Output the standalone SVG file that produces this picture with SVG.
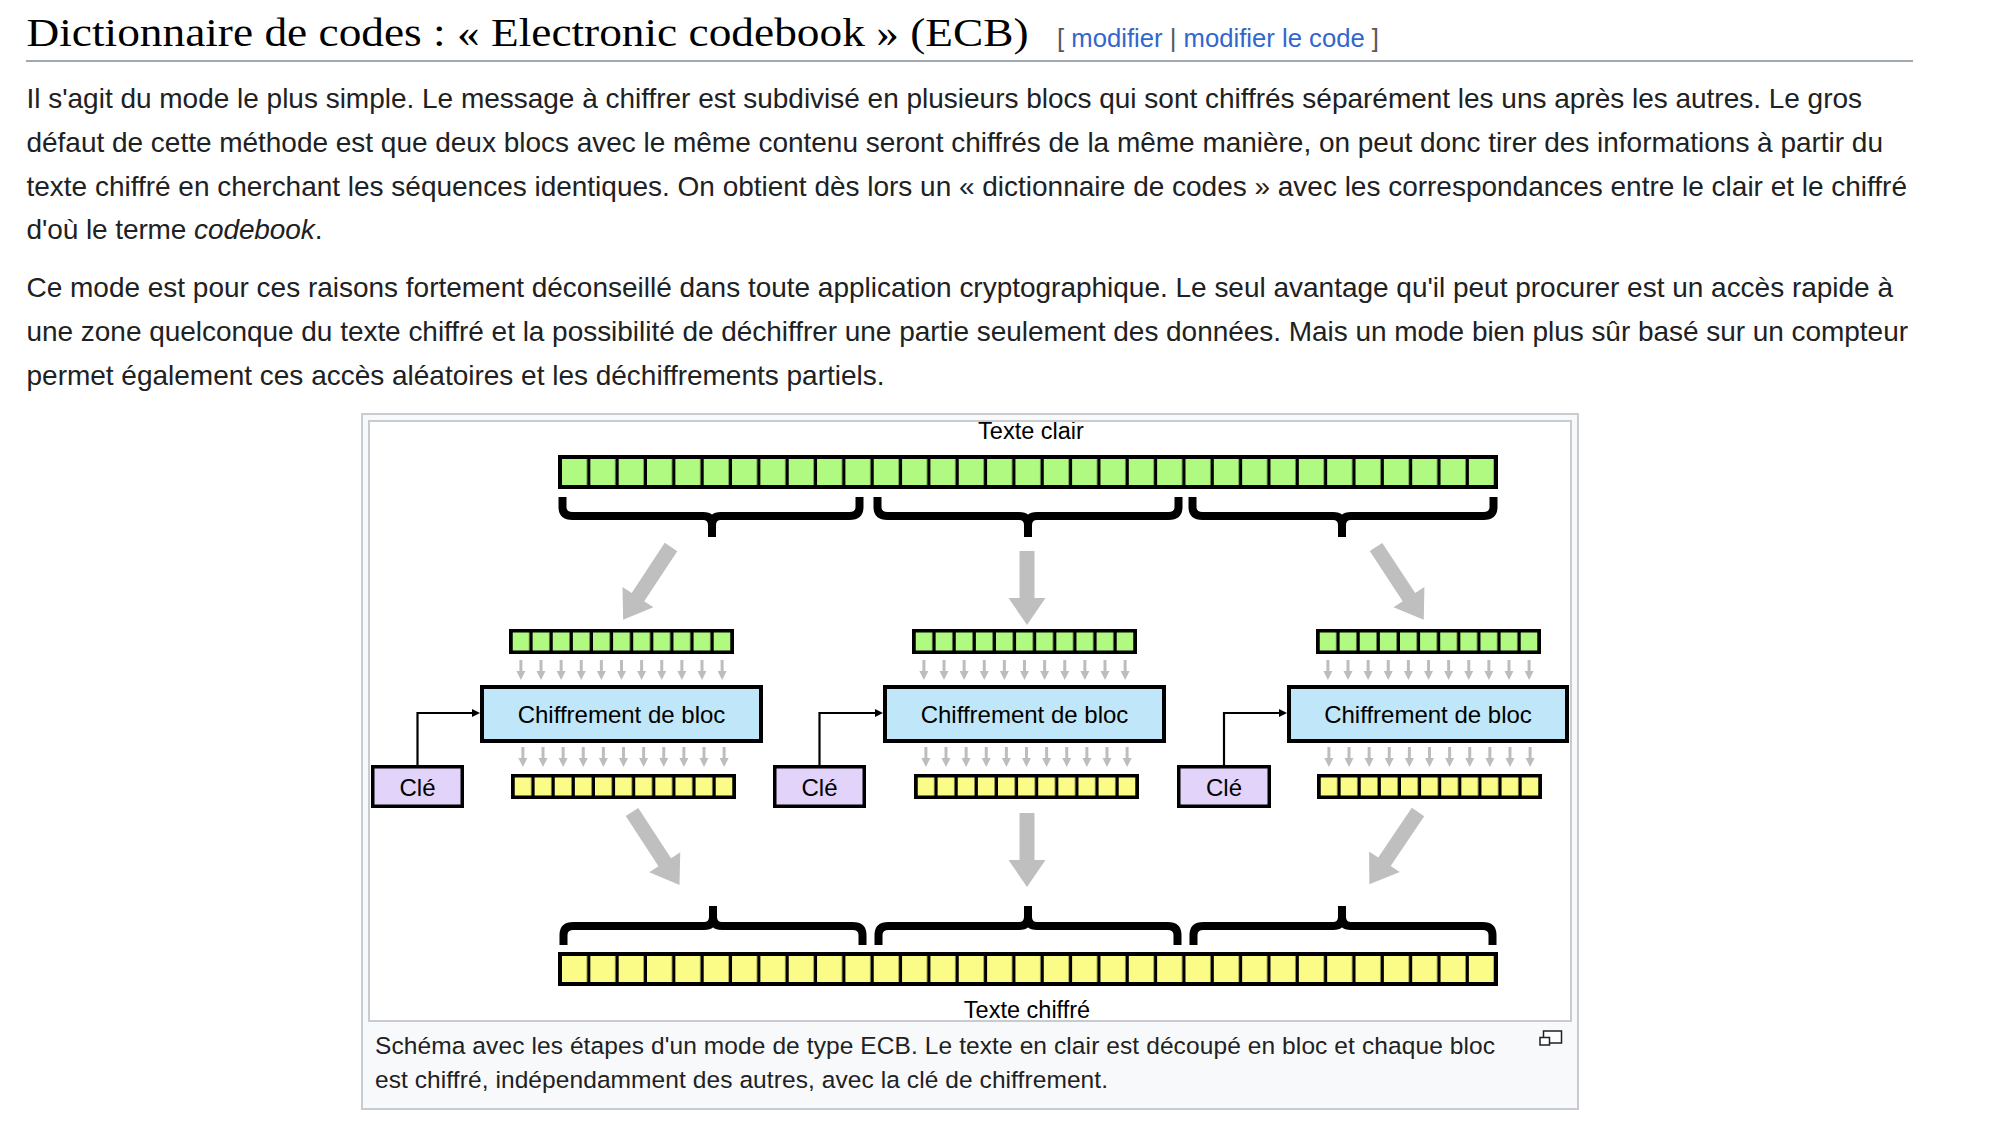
<svg xmlns="http://www.w3.org/2000/svg" xmlns:xlink="http://www.w3.org/1999/xlink" width="1992" height="1140" viewBox="0 0 1992 1140">
<style>
.body{font-family:"Liberation Sans",Arial,Helvetica,sans-serif;fill:#202122;}
.para{font-size:28px;}
.title{font-family:"Liberation Serif","Times New Roman",serif;font-size:40px;fill:#000;}
.edit{font-size:26px;}
.link{fill:#3366cc;}
.brk{fill:#54595d;}
.lbl{font-family:"Liberation Sans",Arial,Helvetica,sans-serif;font-size:24px;fill:#000;text-anchor:middle;}
.cap{font-size:24.5px;}
.cipher{fill:#bfe6f9;stroke:#000;stroke-width:4;}
.key{fill:#e1d3fa;stroke:#000;stroke-width:3.5;}
.brace{fill:none;stroke:#000;stroke-width:8;stroke-linejoin:round;}
.big{fill:#bfbfbf;}
.conn{fill:none;stroke:#000;stroke-width:2.2;}
</style>
<defs>
<pattern id="pBigG" patternUnits="userSpaceOnUse" x="4" y="4" width="28.34" height="26"><rect width="25.04" height="26" fill="#b1fa82"/></pattern>
<pattern id="pBigY" patternUnits="userSpaceOnUse" x="4" y="4" width="28.34" height="26"><rect width="25.04" height="26" fill="#fbfb88"/></pattern>
<pattern id="pSmG" patternUnits="userSpaceOnUse" x="3.5" y="3.5" width="20.12" height="18"><rect width="16.8" height="18" fill="#b1fa82"/></pattern>
<pattern id="pSmY" patternUnits="userSpaceOnUse" x="3.5" y="3.5" width="20.12" height="18"><rect width="16.8" height="18" fill="#fbfb88"/></pattern>
<g id="ta"><path d="M0,0V12" stroke="#bdbdbd" stroke-width="3"/><path d="M-4.5,11H4.5L0,20z" fill="#bdbdbd"/></g>
<g id="tiny-arrows">
<use xlink:href="#ta" x="11.9"/><use xlink:href="#ta" x="32.02"/><use xlink:href="#ta" x="52.14"/><use xlink:href="#ta" x="72.26"/><use xlink:href="#ta" x="92.38"/><use xlink:href="#ta" x="112.5"/><use xlink:href="#ta" x="132.62"/><use xlink:href="#ta" x="152.74"/><use xlink:href="#ta" x="172.86"/><use xlink:href="#ta" x="192.98"/><use xlink:href="#ta" x="213.1"/>
</g>
<g id="smallG"><rect width="225" height="25" fill="#000"/><rect x="3.5" y="3.5" width="218" height="18" fill="url(#pSmG)"/></g>
<g id="smallY"><rect width="225" height="25" fill="#000"/><rect x="3.5" y="3.5" width="218" height="18" fill="url(#pSmY)"/></g>
<polygon id="arrowS" points="-7.5,0 7.5,0 7.5,47 18.5,47 0,74 -18.5,47 -7.5,47"/>
<polygon id="arrowD" points="-7.5,0 7.5,0 7.5,60 18.5,60 0,87 -18.5,60 -7.5,60"/>
<marker id="tip" markerUnits="userSpaceOnUse" markerWidth="9" markerHeight="9" refX="0" refY="4" orient="auto"><path d="M0,0L8,4L0,8z" fill="#000"/></marker>
</defs>

<rect width="1992" height="1140" fill="#fff"/>

<g id="heading">
<text class="title" x="26.5" y="45.5" textLength="1002" lengthAdjust="spacingAndGlyphs">Dictionnaire de codes : « Electronic codebook » (ECB)</text>
<text class="body edit" x="1057" y="47" textLength="322" lengthAdjust="spacingAndGlyphs"><tspan class="brk">[ </tspan><tspan class="link">modifier</tspan><tspan class="brk"> | </tspan><tspan class="link">modifier le code</tspan><tspan class="brk"> ]</tspan></text>
<line x1="26" y1="61" x2="1913" y2="61" stroke="#a2a9b1" stroke-width="2"/>
</g>

<g id="paragraph-1" class="body para">
<text x="26.5" y="107.7" textLength="1835.5" lengthAdjust="spacing">Il s'agit du mode le plus simple. Le message à chiffrer est subdivisé en plusieurs blocs qui sont chiffrés séparément les uns après les autres. Le gros</text>
<text x="26.5" y="151.7" textLength="1856.5" lengthAdjust="spacing">défaut de cette méthode est que deux blocs avec le même contenu seront chiffrés de la même manière, on peut donc tirer des informations à partir du</text>
<text x="26.5" y="195.5" textLength="1880.5" lengthAdjust="spacing">texte chiffré en cherchant les séquences identiques. On obtient dès lors un « dictionnaire de codes » avec les correspondances entre le clair et le chiffré</text>
<text x="26.5" y="239.3" textLength="296" lengthAdjust="spacing">d'où le terme <tspan font-style="italic">codebook</tspan>.</text>
</g>
<g id="paragraph-2" class="body para">
<text x="26.5" y="296.7" textLength="1866.5" lengthAdjust="spacing">Ce mode est pour ces raisons fortement déconseillé dans toute application cryptographique. Le seul avantage qu'il peut procurer est un accès rapide à</text>
<text x="26.5" y="340.7" textLength="1881.5" lengthAdjust="spacing">une zone quelconque du texte chiffré et la possibilité de déchiffrer une partie seulement des données. Mais un mode bien plus sûr basé sur un compteur</text>
<text x="26.5" y="385" textLength="858" lengthAdjust="spacing">permet également ces accès aléatoires et les déchiffrements partiels.</text>
</g>

<g id="figure-frame">
<rect x="362" y="414" width="1216" height="695" fill="#f8f9fa" stroke="#c8ccd1" stroke-width="2"/>
<rect x="369" y="421" width="1202" height="600" fill="#fff"/>
</g>

<g id="label-plaintext"><text class="lbl" x="1031" y="439" style="font-size:23.5px">Texte clair</text></g>

<g id="plaintext-bar" transform="translate(558,455)">
<rect width="940" height="34" fill="#000"/>
<rect x="4" y="4" width="932" height="26" fill="url(#pBigG)"/>
</g>

<g id="braces-top">
<path class="brace" d="M562.5,497V507Q562.5,516 572.5,516H703Q712,516 712,525V537M712,525Q712,516 721,516H849.5Q859.5,516 859.5,507V497"/>
<path class="brace" d="M877.5,497V507Q877.5,516 887.5,516H1019Q1028,516 1028,525V537M1028,525Q1028,516 1037,516H1168.5Q1178.5,516 1178.5,507V497"/>
<path class="brace" d="M1192.5,497V507Q1192.5,516 1202.5,516H1333Q1342,516 1342,525V537M1342,525Q1342,516 1351,516H1483.5Q1493.5,516 1493.5,507V497"/>
</g>

<g id="connectors">
<use xlink:href="#arrowD" class="big" transform="translate(671,547) rotate(33.4)"/>
<use xlink:href="#arrowS" class="big" transform="translate(1027,551)"/>
<use xlink:href="#arrowD" class="big" transform="translate(1376,547) rotate(-33.3)"/>
<use xlink:href="#tiny-arrows" x="509" y="660"/>
<use xlink:href="#tiny-arrows" x="912" y="660"/>
<use xlink:href="#tiny-arrows" x="1316" y="660"/>
<use xlink:href="#tiny-arrows" x="511" y="747"/>
<use xlink:href="#tiny-arrows" x="914" y="747"/>
<use xlink:href="#tiny-arrows" x="1317" y="747"/>
<path class="conn" d="M417.5,765V713H472" marker-end="url(#tip)"/>
<path class="conn" d="M819.5,765V713H875" marker-end="url(#tip)"/>
<path class="conn" d="M1224,765V713H1279" marker-end="url(#tip)"/>
<use xlink:href="#arrowD" class="big" transform="translate(632,812) rotate(-33.1)"/>
<use xlink:href="#arrowS" class="big" transform="translate(1027,813)"/>
<use xlink:href="#arrowD" class="big" transform="translate(1418,812) rotate(34)"/>
</g>

<g id="block-in-1"><use xlink:href="#smallG" x="509" y="629"/></g>
<g id="block-in-2"><use xlink:href="#smallG" x="912" y="629"/></g>
<g id="block-in-3"><use xlink:href="#smallG" x="1316" y="629"/></g>

<g id="cipher-1"><rect class="cipher" x="482" y="687" width="279" height="54"/><text class="lbl" x="621.5" y="723">Chiffrement de bloc</text></g>
<g id="cipher-2"><rect class="cipher" x="885" y="687" width="279" height="54"/><text class="lbl" x="1024.5" y="723">Chiffrement de bloc</text></g>
<g id="cipher-3"><rect class="cipher" x="1289" y="687" width="278" height="54"/><text class="lbl" x="1428" y="723">Chiffrement de bloc</text></g>

<g id="key-1"><rect class="key" x="372.75" y="766.75" width="89.5" height="39.5"/><text class="lbl" x="417.5" y="796">Clé</text></g>
<g id="key-2"><rect class="key" x="774.75" y="766.75" width="89.5" height="39.5"/><text class="lbl" x="819.5" y="796">Clé</text></g>
<g id="key-3"><rect class="key" x="1178.75" y="766.75" width="90.5" height="39.5"/><text class="lbl" x="1224" y="796">Clé</text></g>

<g id="block-out-1"><use xlink:href="#smallY" x="511" y="774"/></g>
<g id="block-out-2"><use xlink:href="#smallY" x="914" y="774"/></g>
<g id="block-out-3"><use xlink:href="#smallY" x="1317" y="774"/></g>

<g id="braces-bottom">
<path class="brace" d="M563.5,945V935Q563.5,926 573.5,926H704Q713,926 713,917V906M713,917Q713,926 722,926H852.5Q862.5,926 862.5,935V945"/>
<path class="brace" d="M878.5,945V935Q878.5,926 888.5,926H1019Q1028,926 1028,917V906M1028,917Q1028,926 1037,926H1167.5Q1177.5,926 1177.5,935V945"/>
<path class="brace" d="M1193.5,945V935Q1193.5,926 1203.5,926H1333Q1342,926 1342,917V906M1342,917Q1342,926 1351,926H1482.5Q1492.5,926 1492.5,935V945"/>
</g>

<g id="ciphertext-bar" transform="translate(558,952)">
<rect width="940" height="34" fill="#000"/>
<rect x="4" y="4" width="932" height="26" fill="url(#pBigY)"/>
</g>

<g id="label-ciphertext"><text class="lbl" x="1027" y="1018" style="font-size:23.5px">Texte chiffré</text></g>

<g id="frame-border"><rect x="369" y="421" width="1202" height="600" fill="none" stroke="#c8ccd1" stroke-width="2"/></g>

<g id="caption" class="body cap">
<text x="375" y="1054" textLength="1120" lengthAdjust="spacing">Schéma avec les étapes d'un mode de type ECB. Le texte en clair est découpé en bloc et chaque bloc</text>
<text x="375" y="1088" textLength="733" lengthAdjust="spacing">est chiffré, indépendamment des autres, avec la clé de chiffrement.</text>
</g>

<g id="enlarge-icon" fill="#fff" stroke="#202122" stroke-width="1.5">
<rect x="1543.5" y="1031" width="18" height="12"/>
<rect x="1540" y="1037.5" width="9.5" height="7.5"/>
</g>
</svg>
